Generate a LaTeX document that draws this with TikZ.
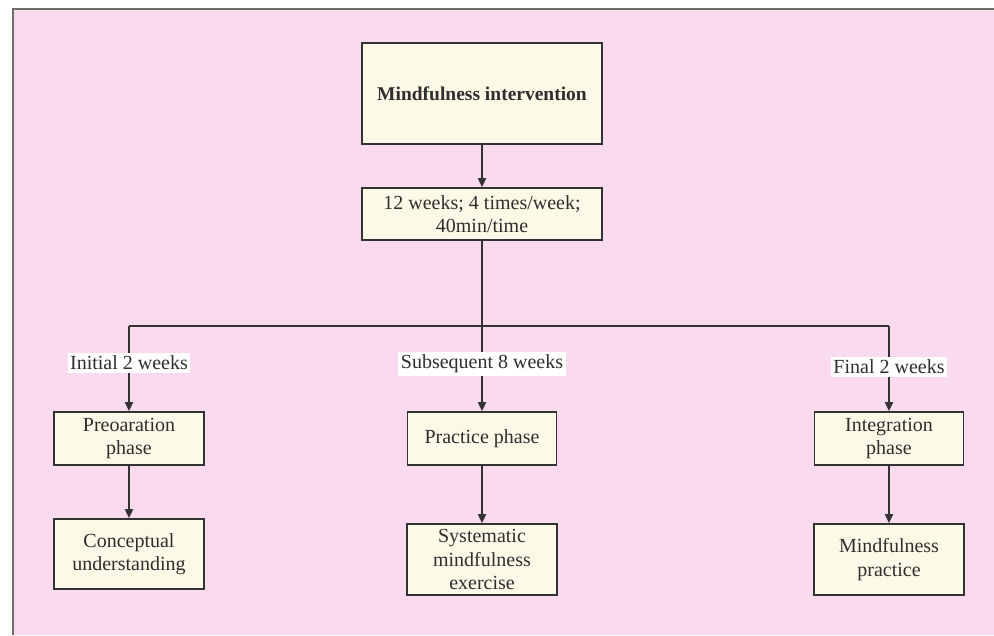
\documentclass[tikz,border=0pt]{standalone}
\usepackage{fontspec}
\setmainfont{Liberation Serif}
\usetikzlibrary{arrows.meta}
\definecolor{bgpink}{HTML}{F9DAEE}
\definecolor{boxfill}{HTML}{FCFAE6}
\definecolor{linec}{HTML}{333333}
\definecolor{textc}{HTML}{2E2E2E}
\definecolor{framec}{HTML}{6E6E6E}
\begin{document}
\begin{tikzpicture}[x=1pt,y=-1pt,
  box/.style={draw=linec, line width=1.7pt, fill=boxfill, text=textc, align=center,
    font=\fontsize{20}{23.5}\selectfont, inner sep=0pt},
  conn/.style={draw=linec, line width=1.8pt},
  arr/.style={conn, -{Triangle[length=9pt,width=8pt]}},
  lab/.style={fill=white, text=textc, inner sep=2.5pt, font=\fontsize{20}{23.5}\selectfont}]
\useasboundingbox (0,0) rectangle (994,635);
\fill[bgpink] (13,9) rectangle (994,635);
\draw[framec, line width=2pt] (13,635) -- (13,9) -- (994,9);

\node[box, minimum width=240pt, minimum height=101pt, font=\fontsize{19.5}{23}\selectfont\bfseries] (mi) at (482,93.5) {Mindfulness intervention};
\node[box, minimum width=240pt, minimum height=52pt] (wk) at (482,214) {12 weeks; 4 times/week;\\40min/time};

\node[box, minimum width=150pt, minimum height=53pt] (pre) at (129,438.5) {Preoaration\\phase};
\node[box, minimum width=150pt, minimum height=70pt] (con) at (129,554) {Conceptual\\understanding};
\node[box, minimum width=149pt, minimum height=53pt] (pra) at (482,438.5) {Practice phase};
\node[box, minimum width=150pt, minimum height=71pt] (sys) at (482,559.5) {Systematic\\mindfulness\\exercise};
\node[box, minimum width=149pt, minimum height=53pt] (int) at (889,438.5) {Integration\\phase};
\node[box, minimum width=150pt, minimum height=71pt] (mp) at (889,559.5) {Mindfulness\\practice};

\coordinate (jl) at (129,326);
\coordinate (jc) at (482,326);
\coordinate (jr) at (889,326);

\draw[arr] (mi) -- (wk);
\draw[conn] (jl) -- (jr);
\draw[arr] (wk.south) -- (pra.north);
\draw[arr] (jl) -- (pre.north);
\draw[arr] (jr) -- (int.north);
\draw[arr] (pre) -- (con);
\draw[arr] (pra) -- (sys);
\draw[arr] (int) -- (mp);

\node[lab] (l1) at (129,363) {Initial 2 weeks};
\node[lab] (l2) at (482,364) {Subsequent 8 weeks};
\node[lab] (l3) at (889,367) {Final 2 weeks};
\end{tikzpicture}
\end{document}
